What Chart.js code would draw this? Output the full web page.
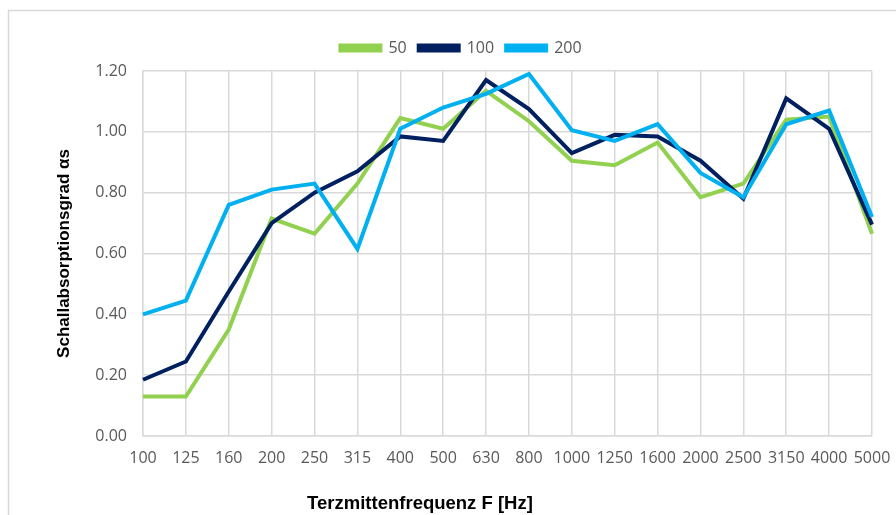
<!DOCTYPE html>
<html>
<head>
<meta charset="utf-8">
<script src="https://cdn.jsdelivr.net/npm/chart.js@4/dist/chart.umd.min.js"></script>
<style>
  body { margin: 0; background: #fff; }
  canvas { display: block; }
</style>
</head>
<body>
<canvas id="mychart" width="896" height="515"></canvas>
<script>
// Terzmittenfrequenzen
const frequencies = ['100','125','160','200','250','315','400','500','630','800','1000','1250','1600','2000','2500','3150','4000','5000']

const values50 = [0.13,0.13,0.35,0.715,0.665,0.83,1.045,1.01,1.135,1.035,0.905,0.89,0.965,0.785,0.83,1.04,1.05,0.665]
const values100 = [0.185,0.245,0.475,0.70,0.80,0.87,0.985,0.97,1.17,1.075,0.93,0.99,0.985,0.905,0.78,1.11,1.01,0.695]
const values200 = [0.40,0.445,0.76,0.81,0.83,0.615,1.01,1.08,1.125,1.19,1.005,0.97,1.025,0.865,0.785,1.025,1.07,0.72]

const seriesNames = ['50','100','200']
const yTicks = [0,0.2,0.4,0.6,0.8,1.0,1.2]

const gray = '#595959'
const gridColor = '#d9d9d9'

// outer frame + white background
const framePlugin = {
  id: 'frame',
  beforeDraw(chart){
    const ctx = chart.ctx
    ctx.save()
    ctx.fillStyle = '#fff'
    ctx.fillRect(0, 0, chart.width, chart.height)
    ctx.strokeStyle = gridColor
    ctx.lineWidth = 1.5
    ctx.strokeRect(8.5, 10.5, chart.width + 20, chart.height + 20)
    ctx.restore()
  }
}

// x axis title sits off-centre in the original, so draw it here
const xTitlePlugin = {
  id: 'xTitle',
  afterDraw(chart){
    const ctx = chart.ctx
    ctx.save()
    ctx.font = 'bold 18.5px "Liberation Sans", Arial, sans-serif'
    ctx.fillStyle = '#000'
    ctx.textAlign = 'center'
    ctx.textBaseline = 'middle'
    ctx.fillText('Terzmittenfrequenz F [Hz]', 420, 504)
    ctx.restore()
  }
}

const myChart = new Chart(document.getElementById('mychart'), {
  type: 'line',
  data: {
    labels: frequencies,
    datasets: [
      { label: seriesNames[0], data: values50, borderColor: '#92D050', backgroundColor: '#92D050', order: 2 },
      { label: seriesNames[1], data: values100, borderColor: '#002060', backgroundColor: '#002060', order: 1 },
      { label: seriesNames[2], data: values200, borderColor: '#00B0F0', backgroundColor: '#00B0F0', order: 0 }
    ]
  },
  options: {
    responsive: false,
    animation: false,
    devicePixelRatio: 1,
    layout: { padding: { left: 50, right: 24, top: 28, bottom: 0 } },
    elements: {
      line: { borderWidth: 4, tension: 0, borderJoinStyle: 'miter' },
      point: { radius: 0 }
    },
    plugins: {
      tooltip: { enabled: false },
      legend: {
        position: 'top',
        labels: {
          boxWidth: 40,
          boxHeight: 5,
          padding: 12,
          color: gray,
          font: { family: '"Open Sans", sans-serif', size: 16 },
          sort: (a, b) => a.datasetIndex - b.datasetIndex
        }
      }
    },
    scales: {
      x: {
        offset: false,
        grid: { color: gridColor, lineWidth: 1.5, drawTicks: false },
        border: { color: gridColor, width: 1.5 },
        ticks: {
          color: gray,
          maxRotation: 0,
          autoSkip: false,
          padding: 13,
          font: { family: '"Open Sans", sans-serif', size: 16 }
        },
        afterFit: (s) => { s.height = 79; s.paddingRight = 0; s.paddingLeft = 0 }
      },
      y: {
        min: 0,
        max: 1.2,
        afterBuildTicks: (s) => { s.ticks = yTicks.map(v => ({ value: v })) },
        grid: { color: gridColor, lineWidth: 1.5, drawTicks: false },
        border: { color: gridColor, width: 1.5 },
        ticks: {
          color: gray,
          padding: 16,
          font: { family: '"Open Sans", sans-serif', size: 16 },
          callback: (v) => Number(v).toFixed(2)
        },
        title: {
          display: true,
          text: 'Schallabsorptionsgrad αs',
          color: '#000',
          font: { family: '"Liberation Sans", Arial, sans-serif', size: 17, weight: 'bold' }
        },
        afterFit: (s) => { s.width = 93; s.paddingTop = 0; s.paddingBottom = 0 }
      }
    }
  },
  plugins: [framePlugin, xTitlePlugin]
})

// a bit more room under the legend
const legendFit = myChart.legend.fit
myChart.legend.fit = function(){
  legendFit.call(this)
  this.height += 5
}
myChart.update()
</script>
</body>
</html>
